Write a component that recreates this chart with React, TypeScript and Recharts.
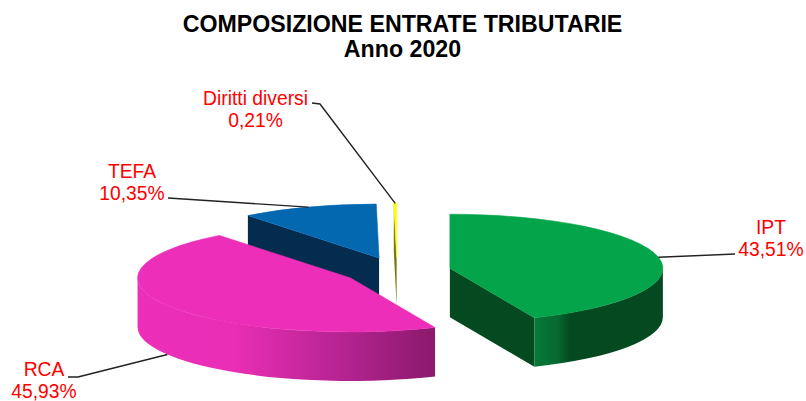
import React from "react";
import { PieChart, Pie } from "recharts";

// Data, in drawing order (back slices first)
const names = ["Diritti diversi", "TEFA", "RCA", "IPT"];
const shares = [0.21, 10.35, 45.93, 43.51];
const titleLines = ["COMPOSIZIONE ENTRATE TRIBUTARIE", "Anno 2020"];

const pieData = names.map((name, i) => ({ name, value: shares[i] }));

// Projection of the exploded 3D pie
const SQUASH = 54 / 213;
const DEPTH = 49;
const EXPLODE = 54;
const LABEL_FONT = 19.3;
const LINE_GAP = 22;
const FONT = '"Liberation Sans", Arial, sans-serif';

type Style = { top: string; cut: string; wall: [number, string][]; wallFrom: number; wallTo: number };
const styles: Record<string, Style> = {
  IPT: { top: "#04a44b", cut: "#04491f", wall: [[0, "#08783a"], [0.18, "#066a30"], [0.28, "#04491f"], [1, "#04491f"]], wallFrom: 534, wallTo: 663 },
  RCA: { top: "#ec2eb8", cut: "#8a196b", wall: [[0, "#ec2eb8"], [0.32, "#ea2eb6"], [0.7, "#b32390"], [1, "#8a196b"]], wallFrom: 138, wallTo: 436 },
  TEFA: { top: "#0468b1", cut: "#032c4e", wall: [[0, "#032c4e"], [1, "#032c4e"]], wallFrom: 248, wallTo: 379 },
  "Diritti diversi": { top: "#ffff00", cut: "#77770f", wall: [[0, "#77770f"], [1, "#77770f"]], wallFrom: 393, wallTo: 397 },
};

// Label placement: text centre, first baseline, leader start and elbow
const labelLayout: Record<string, { x: number; y: number; leader: [number, number][] }> = {
  IPT: { x: 771, y: 234, leader: [[735, 254]] },
  RCA: { x: 44, y: 376, leader: [[68, 377], [78, 377]] },
  TEFA: { x: 132, y: 178, leader: [[168, 198]] },
  "Diritti diversi": { x: 255.5, y: 104.5, leader: [[312, 103], [320, 104]] },
};

const rad = (d: number) => (d * Math.PI) / 180;
const fmt = (v: number) => v.toFixed(2).replace(".", ",") + "%";

function clockSpan(startAngle: number, endAngle: number) {
  const span = Math.abs(endAngle - startAngle);
  let e = (90 - startAngle) % 360;
  if (e <= 0) e += 360;
  return { s: e - span, e, mid: e - span / 2 };
}

function centre(cx: number, cy: number, mid: number) {
  return {
    x: cx + EXPLODE * Math.sin(rad(mid)),
    y: cy - EXPLODE * SQUASH * Math.cos(rad(mid)),
  };
}

const Slice3D = (props: any) => {
  const { cx, cy, startAngle, endAngle, outerRadius: a, name, index } = props;
  const st = styles[name];
  const { s, e, mid } = clockSpan(startAngle, endAngle);
  const c = centre(cx, cy, mid);
  const b = a * SQUASH;
  const P = (t: number, dy = 0) => ({ x: c.x + a * Math.sin(rad(t)), y: c.y - b * Math.cos(rad(t)) + dy });
  const arc = (to: { x: number; y: number }, sweep: number, large: number) =>
    `A ${a} ${b} 0 ${large} ${sweep} ${to.x} ${to.y}`;
  const p0 = P(s);
  const p1 = P(e);
  const top = `M ${c.x} ${c.y} L ${p0.x} ${p0.y} ${arc(p1, 1, e - s > 180 ? 1 : 0)} Z`;

  const t0 = Math.max(s, 90);
  const t1 = Math.min(e, 270);
  let wall: string | null = null;
  if (t1 > t0) {
    const w0 = P(t0);
    const w1 = P(t1);
    const w0b = P(t0, DEPTH);
    const w1b = P(t1, DEPTH);
    wall = `M ${w0.x} ${w0.y} ${arc(w1, 1, 0)} L ${w1b.x} ${w1b.y} ${arc(w0b, 0, 0)} Z`;
  }
  const face = (t: number) => {
    const p = P(t);
    return `M ${c.x} ${c.y} L ${p.x} ${p.y} L ${p.x} ${p.y + DEPTH} L ${c.x} ${c.y + DEPTH} Z`;
  };
  const gid = `wall-${index}`;
  return (
    <g>
      <defs>
        <linearGradient id={gid} gradientUnits="userSpaceOnUse" x1={st.wallFrom} x2={st.wallTo} y1={0} y2={0}>
          {st.wall.map(([o, col], i) => (
            <stop key={i} offset={o} stopColor={col} />
          ))}
        </linearGradient>
      </defs>
      {Math.sin(rad(s)) < 0 && <path d={face(s)} fill={st.cut} />}
      {Math.sin(rad(e)) > 0 && <path d={face(e)} fill={st.cut} />}
      {wall && <path d={wall} fill={`url(#${gid})`} />}
      <path d={top} fill={st.top} stroke={st.top} strokeWidth={0.6} />
    </g>
  );
};

const SliceLabel = (props: any) => {
  const { cx, cy, startAngle, endAngle, outerRadius: a, name, value } = props;
  const layout = labelLayout[name];
  if (!layout) return null;
  const { mid } = clockSpan(startAngle, endAngle);
  const c = centre(cx, cy, mid);
  const ax = c.x + a * Math.sin(rad(mid));
  const ay = c.y - a * SQUASH * Math.cos(rad(mid)) + (Math.cos(rad(mid)) < 0 ? DEPTH : 0);
  const pts = [...layout.leader.map((p) => p.join(",")), `${ax},${ay}`].join(" ");
  return (
    <g>
      <polyline points={pts} fill="none" stroke="#222" strokeWidth={1.4} />
      <text x={layout.x} y={layout.y} textAnchor="middle" fontFamily={FONT} fontSize={LABEL_FONT} fill="#ff0000">
        {name}
      </text>
      <text x={layout.x} y={layout.y + LINE_GAP} textAnchor="middle" fontFamily={FONT} fontSize={LABEL_FONT} fill="#ff0000">
        {fmt(value)}
      </text>
    </g>
  );
};

export default function App() {
  return (
    <div style={{ position: "absolute", left: 0, top: 0, width: 806, height: 401, overflow: "hidden", background: "#fff" }}>
      <PieChart width={806} height={401} margin={{ top: 0, right: 0, bottom: 0, left: 0 }}>
        <text x={402.5} y={32} textAnchor="middle" fontFamily={FONT} fontWeight="bold" fontSize={23.2} fill="#000">
          {titleLines[0]}
        </text>
        <text x={402.5} y={57} textAnchor="middle" fontFamily={FONT} fontWeight="bold" fontSize={23.2} fill="#000">
          {titleLines[1]}
        </text>
        <Pie
          data={pieData}
          dataKey="value"
          nameKey="name"
          cx={397}
          cy={271}
          outerRadius={213}
          innerRadius={0}
          startAngle={90}
          endAngle={450}
          stroke="none"
          isAnimationActive={false}
          shape={Slice3D}
          label={SliceLabel}
          labelLine={false}
        />
      </PieChart>
    </div>
  );
}
